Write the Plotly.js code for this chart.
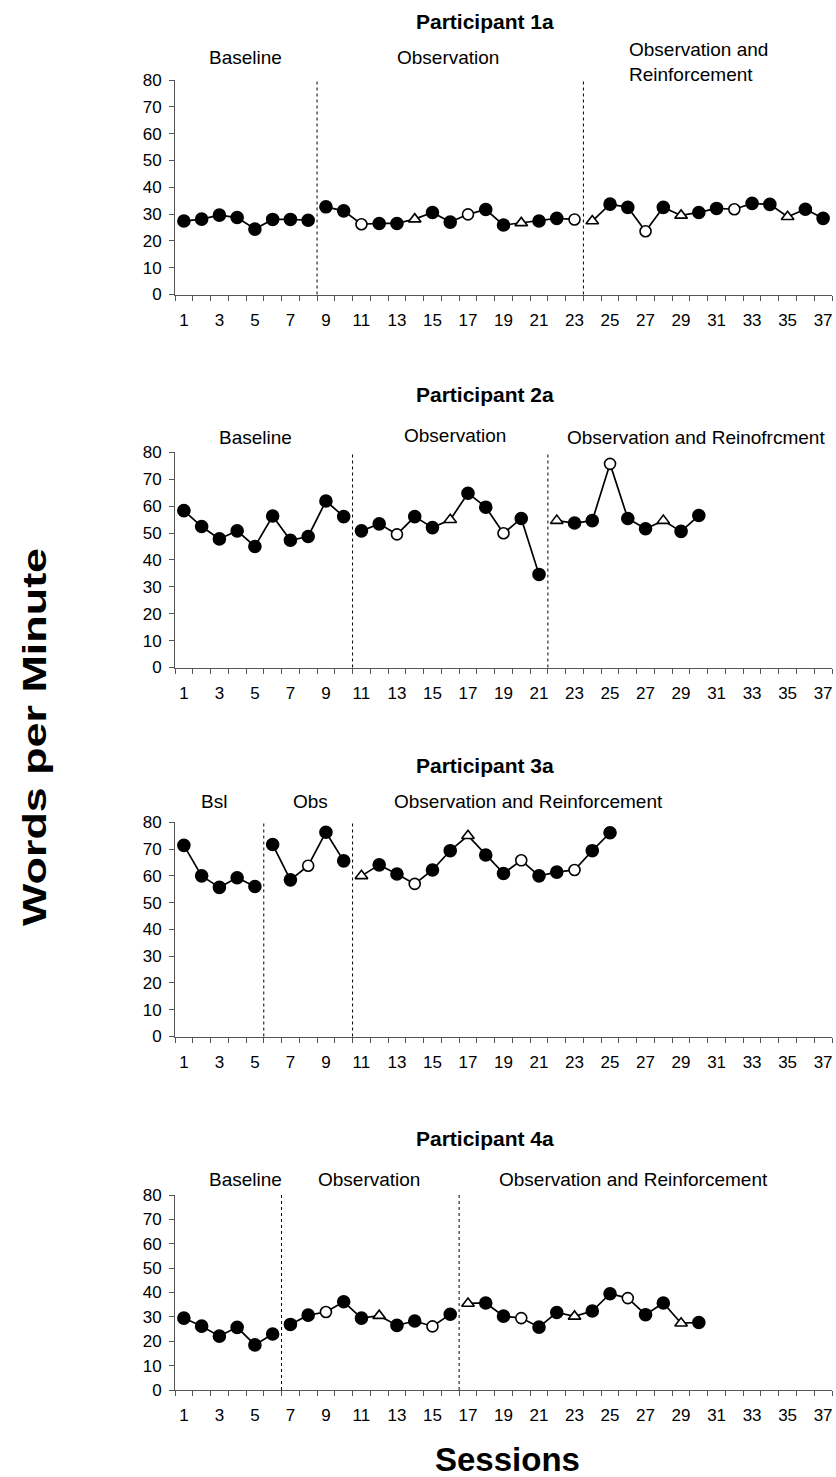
<!DOCTYPE html>
<html>
<head>
<meta charset="utf-8">
<script src="https://cdn.plot.ly/plotly-3.0.1.min.js"></script>
<style>
html, body { margin: 0; padding: 0; background: #fff; }
#chart { width: 836px; height: 1477px; }
</style>
</head>
<body>
<div id="chart"></div>
<script>
// ---------- DATA ----------
// Marker codes: F = filled circle, O = open circle, T = open triangle
const sessionTickLabels = ["1","3","5","7","9","11","13","15","17","19","21","23","25","27","29","31","33","35","37"];

const p1Title = "Participant 1a";
const p1Values = [27.4, 28.1, 29.6, 28.7, 24.4, 28.0, 28.0, 27.7,
                  32.7, 31.2, 26.2, 26.5, 26.5, 28.1, 30.6, 27.0, 29.9, 31.7, 25.9, 26.7, 27.4, 28.4, 28.0,
                  27.4, 33.7, 32.5, 23.6, 32.5, 29.5, 30.6, 32.1, 31.8, 34.0, 33.6, 29.0, 31.8, 28.4];
const p1Markers = ["F","F","F","F","F","F","F","F",
                   "F","F","O","F","F","T","F","F","O","F","F","T","F","F","O",
                   "T","F","F","O","F","T","F","F","O","F","F","T","F","F"];
const p1PhaseEnds = [8, 23, 37];
const p1PhaseNames = ["Baseline", "Observation", "Observation and<br>Reinforcement"];

const p2Title = "Participant 2a";
const p2Values = [58.3, 52.4, 47.8, 50.8, 45.0, 56.3, 47.3, 48.7, 61.9, 56.1,
                  50.8, 53.4, 49.5, 56.1, 52.0, 54.9, 64.8, 59.6, 49.9, 55.4, 34.6,
                  54.6, 53.7, 54.6, 75.7, 55.4, 51.6, 54.6, 50.6, 56.5];
const p2Markers = ["F","F","F","F","F","F","F","F","F","F",
                   "F","F","O","F","F","T","F","F","O","F","F",
                   "T","F","F","O","F","F","T","F","F"];
const p2PhaseEnds = [10, 21, 30];
const p2PhaseNames = ["Baseline", "Observation", "Observation and Reinofrcment"];

const p3Title = "Participant 3a";
const p3Values = [71.4, 60.0, 55.7, 59.3, 56.0,
                  71.7, 58.5, 63.8, 76.3, 65.6,
                  60.0, 64.1, 60.7, 57.0, 62.2, 69.4, 75.0, 67.8, 60.9, 65.8, 60.0, 61.4, 62.2, 69.4, 76.1];
const p3Markers = ["F","F","F","F","F",
                   "F","F","O","F","F",
                   "T","F","F","O","F","F","T","F","F","O","F","F","O","F","F"];
const p3PhaseEnds = [5, 10, 25];
const p3PhaseNames = ["Bsl", "Obs", "Observation and Reinforcement"];

const p4Title = "Participant 4a";
const p4Values = [29.5, 26.2, 22.1, 25.7, 18.5, 23.0,
                  26.9, 30.7, 32.0, 36.2, 29.5, 30.5, 26.5, 28.3, 26.1, 31.1,
                  35.5, 35.7, 30.3, 29.5, 25.8, 31.8, 30.2, 32.4, 39.5, 37.7, 30.9, 35.7, 27.4, 27.7];
const p4Markers = ["F","F","F","F","F","F",
                   "F","F","O","F","F","T","F","F","O","F",
                   "T","F","F","O","F","F","T","F","F","O","F","F","T","F"];
const p4PhaseEnds = [6, 16, 30];
const p4PhaseNames = ["Baseline", "Observation", "Observation and Reinforcement"];

const yTitle = "Words per Minute";
const xTitle = "Sessions";

// ---------- LAYOUT HELPERS ----------
const W = 836, H = 1477;
const FONT = "Liberation Sans, Arial, sans-serif";
const px = v => v / W;
const py = v => 1 - v / H;

const participants = [
  {title: p1Title, values: p1Values, markers: p1Markers, ends: p1PhaseEnds, names: p1PhaseNames,
   top: 80, bottom: 294.5, titleY: 21,
   labels: [{x: 246, y: 58, anchor: "center"}, {x: 448, y: 58, anchor: "center"}, {x: 627, y: 62, anchor: "left"}]},
  {title: p2Title, values: p2Values, markers: p2Markers, ends: p2PhaseEnds, names: p2PhaseNames,
   top: 452.3, bottom: 667.5, titleY: 395,
   labels: [{x: 255, y: 437, anchor: "center"}, {x: 455, y: 436, anchor: "center"}, {x: 696, y: 437, anchor: "center"}]},
  {title: p3Title, values: p3Values, markers: p3Markers, ends: p3PhaseEnds, names: p3PhaseNames,
   top: 822.3, bottom: 1036.5, titleY: 765,
   labels: [{x: 214, y: 801, anchor: "center"}, {x: 310, y: 801, anchor: "center"}, {x: 528, y: 801, anchor: "center"}]},
  {title: p4Title, values: p4Values, markers: p4Markers, ends: p4PhaseEnds, names: p4PhaseNames,
   top: 1195, bottom: 1390, titleY: 1138,
   labels: [{x: 246, y: 1179, anchor: "center"}, {x: 369, y: 1179, anchor: "center"}, {x: 633, y: 1179, anchor: "center"}]}
];

const symbolOf = {F: "circle", O: "circle", T: "triangle-up"};
const colorOf = {F: "#000000", O: "#ffffff", T: "#ffffff"};
const sizeOf = {F: 12, O: 11, T: 11};

const traces = [];
const shapes = [];
const annotations = [];
const layout = {
  width: W, height: H,
  margin: {l: 0, r: 0, t: 0, b: 0},
  paper_bgcolor: "#ffffff", plot_bgcolor: "#ffffff",
  showlegend: false,
  font: {family: FONT, color: "#000000"}
};

const oddSessions = sessionTickLabels.map(Number);
const AXC = "#555555";

participants.forEach((p, i) => {
  const n = i + 1;
  const xa = n === 1 ? "x" : "x" + n;
  const ya = n === 1 ? "y" : "y" + n;
  const xKey = n === 1 ? "xaxis" : "xaxis" + n;
  const yKey = n === 1 ? "yaxis" : "yaxis" + n;

  layout[xKey] = {
    domain: [px(175), px(832)],
    anchor: ya,
    range: [0.5, 37.5],
    tickmode: "array", tickvals: oddSessions, ticktext: sessionTickLabels,
    ticks: "",
    ticklabelstandoff: 10,
    showline: true, linecolor: AXC, linewidth: 1,
    showgrid: false, zeroline: false,
    tickfont: {family: FONT, size: 17, color: "#000"},
    minor: {tickmode: "linear", tick0: 0.5, dtick: 1, ticks: "outside", ticklen: 5, tickcolor: AXC, tickwidth: 1, showgrid: false},
    fixedrange: true
  };
  layout[yKey] = {
    domain: [py(p.bottom), py(p.top)],
    anchor: xa,
    range: [0, 80],
    tickmode: "linear", tick0: 0, dtick: 10,
    ticks: "outside", ticklen: 5, tickcolor: AXC, tickwidth: 1,
    ticklabelstandoff: 4,
    showline: true, linecolor: AXC, linewidth: 1,
    showgrid: false, zeroline: false,
    tickfont: {family: FONT, size: 17, color: "#000"},
    fixedrange: true
  };

  // phases
  let start = 1;
  p.ends.forEach((end, k) => {
    const xs = [], ys = [], sy = [], co = [], sz = [];
    for (let s = start; s <= end; s++) {
      const m = p.markers[s - 1];
      xs.push(s); ys.push(p.values[s - 1]);
      sy.push(symbolOf[m]); co.push(colorOf[m]); sz.push(sizeOf[m]);
    }
    traces.push({
      type: "scatter", mode: "lines+markers",
      x: xs, y: ys, xaxis: xa, yaxis: ya,
      line: {color: "#000", width: 1.7},
      marker: {symbol: sy, color: co, size: sz, opacity: 1, line: {color: "#000", width: 1.6}},
      cliponaxis: false, hoverinfo: "x+y"
    });
    if (k < p.ends.length - 1) {
      shapes.push({
        type: "line", xref: xa, yref: ya + " domain",
        x0: end + 0.5, x1: end + 0.5, y0: 0, y1: 1,
        line: {color: "#000", width: 1, dash: "dot"}
      });
    }
    start = end + 1;
  });

  // title
  annotations.push({
    xref: "paper", yref: "paper", x: px(485), y: py(p.titleY),
    xanchor: "center", yanchor: "middle", showarrow: false,
    text: "<b>" + p.title + "</b>",
    font: {family: FONT, size: 21, color: "#000"}
  });
  // phase labels
  p.names.forEach((name, k) => {
    const L = p.labels[k];
    annotations.push({
      xref: "paper", yref: "paper", x: px(L.x), y: py(L.y),
      xanchor: L.anchor, yanchor: "middle", align: "left", showarrow: false,
      text: name,
      font: {family: FONT, size: 19, color: "#000"}
    });
  });
});

annotations.push({
  xref: "paper", yref: "paper", x: px(34), y: py(737),
  xanchor: "center", yanchor: "middle", showarrow: false, textangle: -90,
  text: "<b>" + yTitle + "</b>",
  font: {family: FONT, size: 33, color: "#000"}
});
annotations.push({
  xref: "paper", yref: "paper", x: px(507), y: py(1459),
  xanchor: "center", yanchor: "middle", showarrow: false,
  text: "<b>" + xTitle + "</b>",
  font: {family: FONT, size: 33, color: "#000"}
});

layout.shapes = shapes;
layout.annotations = annotations;

Plotly.newPlot("chart", traces, layout, {staticPlot: true, displayModeBar: false}).then(gd => {
  // the reference's rotated axis title is drawn elongated along its direction
  gd.querySelectorAll("text.annotation-text").forEach(t => {
    if (t.textContent === yTitle) {
      const b = t.getBBox();
      const cx = b.x + b.width / 2, cy = b.y + b.height / 2;
      const prev = t.getAttribute("transform") || "";
      t.setAttribute("transform", prev + " translate(" + cx + "," + cy + ") scale(1.36,1) translate(" + (-cx) + "," + (-cy) + ")");
    }
  });
});
</script>
</body>
</html>
